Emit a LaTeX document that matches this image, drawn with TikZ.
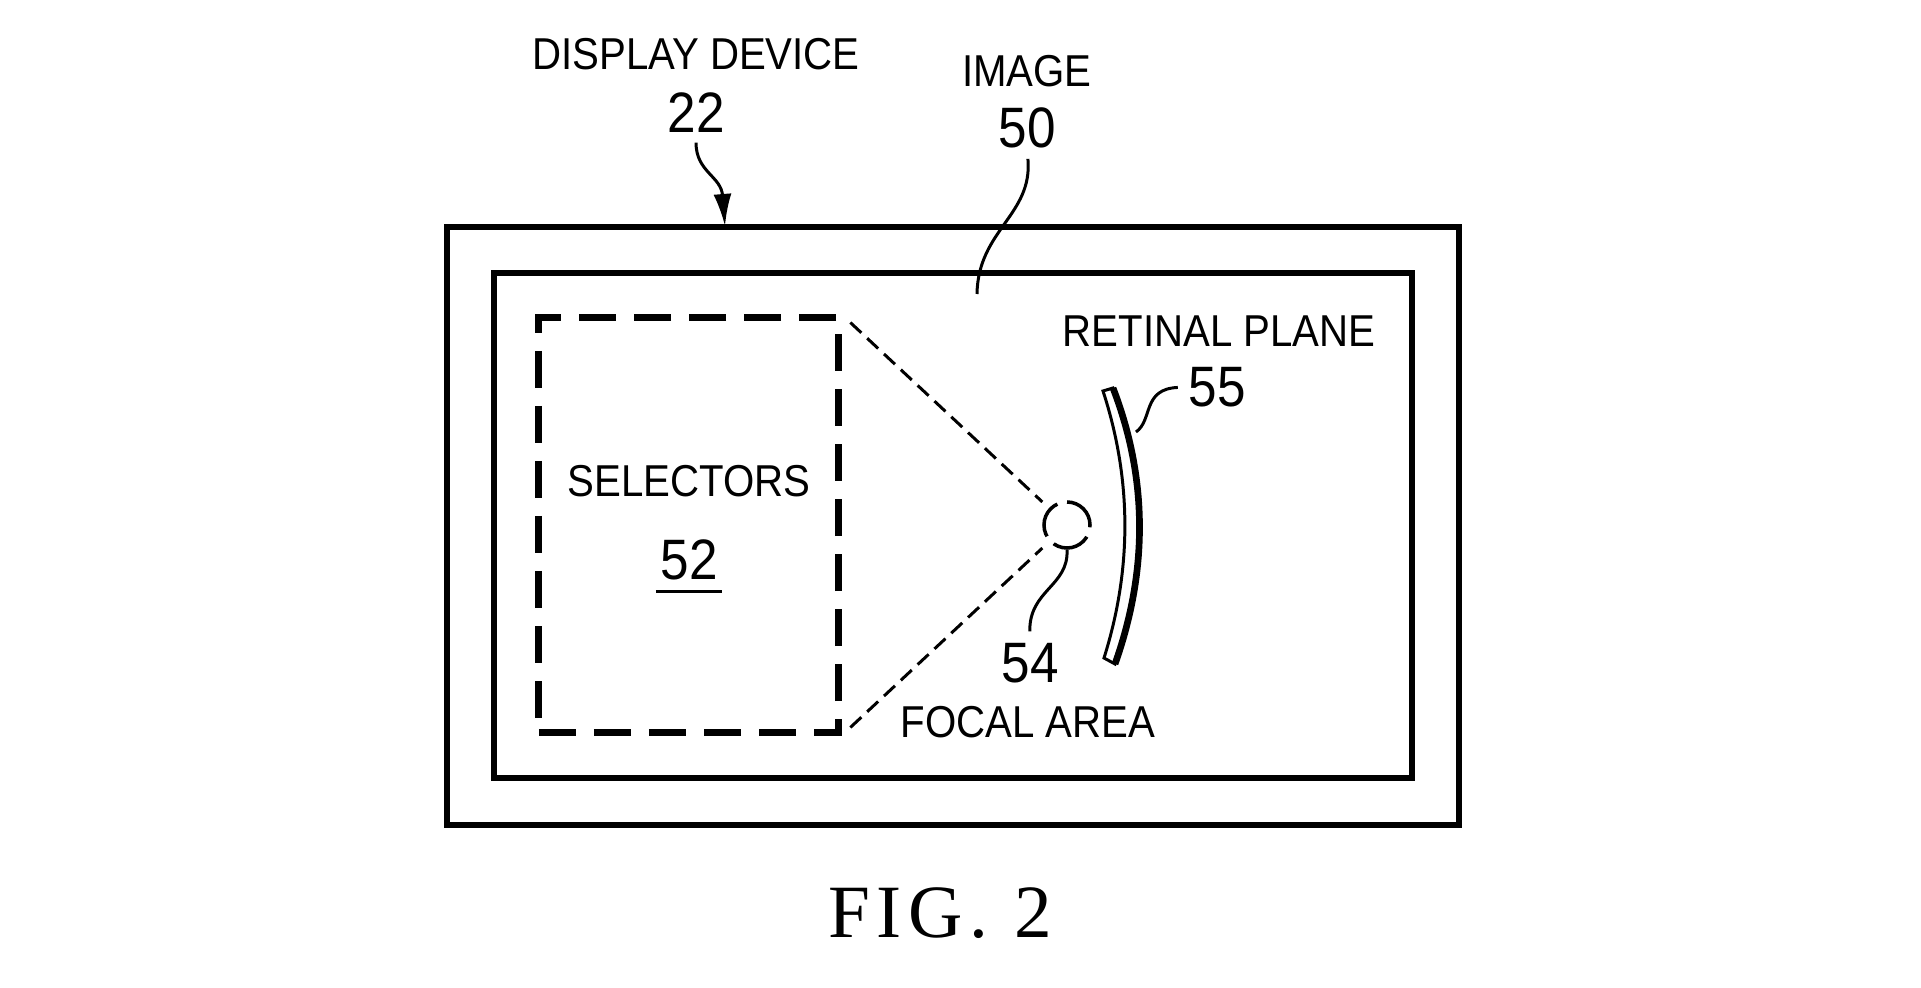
\documentclass[tikz,border=0pt]{standalone}
\usepackage{fontspec}
\setmainfont{Liberation Serif}
\newfontfamily\lblfont[FakeStretch=0.9]{Liberation Sans}
\newfontfamily\figfont[LetterSpace=9]{Liberation Serif}
\usepackage{tikz}
\usetikzlibrary{arrows.meta}

\begin{document}
\begin{tikzpicture}[x=0.01cm,y=-0.01cm,
    lbl/.style={inner sep=0pt, font=\lblfont\fontsize{12.7}{15}\selectfont},
    refnum/.style={inner sep=0pt, font=\lblfont\fontsize{16.2}{19}\selectfont},
    devframe/.style={draw=black, line width=1.6pt, inner sep=0pt},
    selbox/.style={draw=black, line width=2pt, inner sep=0pt, dash pattern=on 0.37cm off 0.18cm,
        minimum width=2.99cm, minimum height=4.14cm},
    focal/.style={circle, draw=black, line width=1pt, inner sep=0pt, minimum size=0.46cm,
        dash pattern=on 0.38cm off 0.1cm, dash phase=0.02cm},
    leader/.style={draw=black, line width=0.85pt},
    ray/.style={draw=black, line width=0.85pt, dash pattern=on 0.15cm off 0.08cm}]
                \useasboundingbox (0,0) rectangle (1921,988);

                % Display device and image
                \node[devframe, minimum width=10.12cm, minimum height=5.98cm] (disp) at (953,526) {};
                \node[devframe, minimum width=9.18cm, minimum height=5.05cm] (img) at (953,525.5) {};

                % Labels on top
                \node[lbl] (ndisp) at (696,54) {DISPLAY DEVICE};
                \node[refnum] (n22) at (696,113) {22};
                \node[lbl] (nimg) at (1027,71) {IMAGE};
                \node[refnum] (n50) at (1027,128) {50};
                \coordinate (dtip) at (725,226);
                \coordinate (imgpt) at (977,294);
                \draw[leader, shorten <=0.09cm, -{Latex[length=0.32cm,width=0.18cm]}] (n22.south) .. controls (696,172) and (721,176) .. (dtip);
                \draw[leader, shorten <=0.1cm] (n50.south) .. controls (1033,215) and (978,230) .. (imgpt);

                % Selectors
                \node[selbox] (sel) at (688.5,525) {};
                \node[lbl] (nsel) at (689,481) {SELECTORS};
                \node[refnum] (n52) at (689,560) {52};
                \draw[line width=0.9pt] ([xshift=-0.04cm,yshift=-0.11cm]n52.south west) -- ([xshift=0.04cm,yshift=-0.11cm]n52.south east);

                % Focal area
                \node[focal] (foc) at (1067,525) {};
                \draw[ray, shorten <=0.12cm, shorten >=0.09cm] (sel.north east) -- (foc);
                \draw[ray, shorten <=0.12cm, shorten >=0.09cm] (sel.south east) -- (foc);
                \node[refnum] (n54) at (1030,663) {54};
                \node[lbl] (nfoc) at (1028,722) {FOCAL AREA};
                \draw[leader, shorten >=0.11cm] (foc.south) .. controls (1069,586) and (1029,590) .. (n54.north);

                % Retinal plane
                \draw[line width=0.85pt] (1103,391) .. controls (1132,480) and (1132,569) .. (1104,658)
                    -- (1115,664) .. controls (1148,571) and (1148,479) .. (1113,388) -- cycle;
                \draw[line width=1.9pt] (1113,388) .. controls (1148,479) and (1148,571) .. (1115,664);
                \node[lbl] (nret) at (1219,331) {RETINAL PLANE};
                \node[refnum] (n55) at (1217,387) {55};
                \coordinate (retpt) at (1136,432);
                \draw[leader, shorten >=0.1cm] (retpt) .. controls (1153,420) and (1142,389) .. (n55.west);

                % Caption
                \node[inner sep=0pt, font=\figfont\fontsize{21.4}{25}\selectfont] (fig) at (940,913) {FIG. 2};
            \end{tikzpicture}
\end{document}
